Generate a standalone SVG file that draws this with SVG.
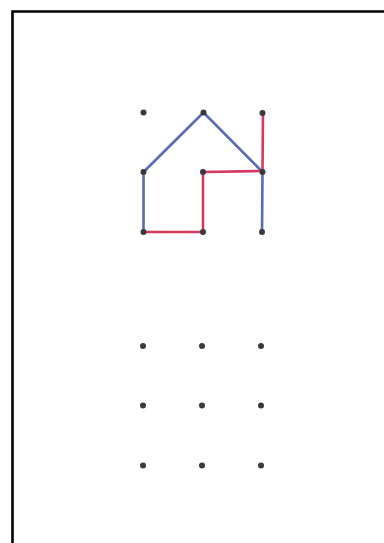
<svg xmlns="http://www.w3.org/2000/svg" width="384" height="543" viewBox="0 0 384 543">
<style>
.dot{fill:#3a3a3a}
.blue{fill:none;stroke:#5a6cb4;stroke-width:2.6;stroke-linecap:round;stroke-linejoin:round}
.red{fill:none;stroke:#d6395f;stroke-width:2.6;stroke-linecap:round;stroke-linejoin:round}
</style>
<rect width="384" height="543" fill="#ffffff"/>
<path d="M12.5 543 V11.5 H384" fill="none" stroke="#000" stroke-width="2.6"/>
<g id="connectors">
<polyline class="blue" points="143.5,232 143.5,172 203.5,112.5 262.5,172 262,232"/>
<polyline class="red" points="143.5,232 203,232 203,172 262.5,171 263,113"/>
</g>
<g id="grid-top">
<circle class="dot" cx="143.5" cy="112.5" r="3"/>
<circle class="dot" cx="203.5" cy="112.5" r="3"/>
<circle class="dot" cx="262.5" cy="113" r="3"/>
<circle class="dot" cx="143.5" cy="172" r="3"/>
<circle class="dot" cx="203" cy="172" r="3"/>
<circle class="dot" cx="262.5" cy="172" r="3"/>
<circle class="dot" cx="143.5" cy="232" r="3"/>
<circle class="dot" cx="203" cy="232" r="3"/>
<circle class="dot" cx="262" cy="232" r="3"/>
</g>
<g id="grid-bottom">
<circle class="dot" cx="143" cy="346" r="3"/>
<circle class="dot" cx="202" cy="346" r="3"/>
<circle class="dot" cx="261" cy="346" r="3"/>
<circle class="dot" cx="143" cy="405.5" r="3"/>
<circle class="dot" cx="202" cy="405.5" r="3"/>
<circle class="dot" cx="261" cy="405.5" r="3"/>
<circle class="dot" cx="143" cy="465.5" r="3"/>
<circle class="dot" cx="202" cy="465.5" r="3"/>
<circle class="dot" cx="261" cy="465.5" r="3"/>
</g>
</svg>
